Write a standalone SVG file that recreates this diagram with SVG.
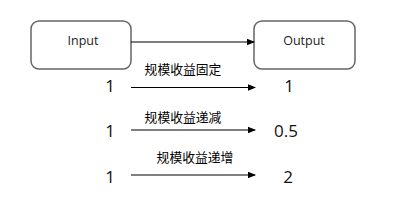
<svg xmlns="http://www.w3.org/2000/svg" width="395" height="202" viewBox="0 0 395 202">
<style>
.box{fill:#fff;stroke:#666;stroke-width:1.5}
.lbl{font-family:"Open Sans","Liberation Sans",sans-serif;font-size:12.5px;fill:#222;text-anchor:middle}
.num{font-family:"Open Sans","Liberation Sans",sans-serif;font-size:17px;fill:#111;text-anchor:middle}
.cjk{font-family:"Noto Sans CJK SC",sans-serif;font-size:12.8px;fill:#000;text-anchor:middle}
.ln{stroke:#000;stroke-width:1.2;fill:none;marker-end:url(#ah)}
</style>
<defs>
<marker id="ah" markerWidth="8" markerHeight="8" refX="7" refY="4" orient="auto" markerUnits="userSpaceOnUse">
<path d="M0,0.8 L8,4 L0,7.2 Z" fill="#000"/>
</marker>
</defs>
<rect width="395" height="202" fill="#fff"/>
<g id="input">
<rect class="box" x="31" y="21" width="100" height="48" rx="8"/>
<text class="lbl" x="83" y="45">Input</text>
</g>
<g id="output">
<rect class="box" x="254" y="21" width="101" height="48" rx="8"/>
<text class="lbl" x="304" y="45">Output</text>
</g>
<g id="connectors">
<line class="ln" x1="131" y1="42" x2="254" y2="42"/>
<line class="ln" x1="131" y1="87.5" x2="255" y2="87.5"/>
<line class="ln" x1="131" y1="130" x2="255" y2="130"/>
<line class="ln" x1="131" y1="175" x2="255" y2="175"/>
</g>
<g id="row1">
<text class="num" x="110" y="92">1</text>
<text class="cjk" x="183" y="74">规模收益固定</text>
<text class="num" x="289" y="92">1</text>
</g>
<g id="row2">
<text class="num" x="110" y="137">1</text>
<text class="cjk" x="183" y="122">规模收益递减</text>
<text class="num" x="286" y="137">0.5</text>
</g>
<g id="row3">
<text class="num" x="110" y="183">1</text>
<text class="cjk" x="195" y="162">规模收益递增</text>
<text class="num" x="288" y="183">2</text>
</g>
</svg>
